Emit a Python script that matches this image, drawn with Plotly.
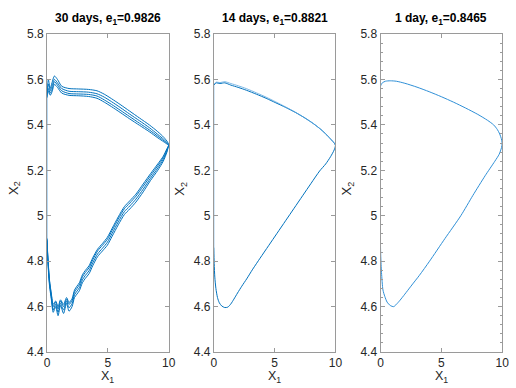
import plotly.graph_objects as go

# ---------------- data ----------------
titles = ["30 days, e<sub>1</sub>=0.9826", "14 days, e<sub>1</sub>=0.8821", "1 day, e<sub>1</sub>=0.8465"]
x_ticks = [0, 5, 10]
y_ticks = [4.4, 4.6, 4.8, 5.0, 5.2, 5.4, 5.6, 5.8]
y_ticktext = ["4.4", "4.6", "4.8", "5", "5.2", "5.4", "5.6", "5.8"]

# 30 days: four nearly parallel loops (upper branch, then lower branch)
p1_upper_x = [0, 0.1, 0.25, 0.4, 0.6, 0.85, 1.2, 1.8, 2.6, 3.4, 4.1, 4.7, 5.3, 6.0, 6.8, 7.6, 8.4, 9.1, 9.6, 9.9, 10.0]
p1_upper_y_a = [5.55, 5.60, 5.56, 5.585, 5.615, 5.60, 5.57, 5.56, 5.558, 5.556, 5.55, 5.535, 5.515, 5.49, 5.46, 5.43, 5.40, 5.37, 5.345, 5.325, 5.315]
p1_upper_y_b = [5.54, 5.58, 5.55, 5.57, 5.60, 5.585, 5.56, 5.548, 5.546, 5.544, 5.537, 5.522, 5.502, 5.477, 5.447, 5.418, 5.388, 5.358, 5.336, 5.32, 5.313]
p1_upper_y_c = [5.53, 5.56, 5.54, 5.555, 5.59, 5.575, 5.55, 5.538, 5.536, 5.534, 5.527, 5.51, 5.49, 5.465, 5.436, 5.407, 5.378, 5.35, 5.33, 5.317, 5.311]
p1_upper_y_d = [5.52, 5.55, 5.53, 5.545, 5.578, 5.565, 5.54, 5.53, 5.528, 5.525, 5.517, 5.50, 5.48, 5.455, 5.426, 5.398, 5.37, 5.343, 5.325, 5.314, 5.31]
p1_lower_x = [9.85, 9.55, 9.1, 8.5, 7.9, 7.3, 6.8, 6.35, 5.85, 5.35, 4.95, 4.55, 4.15, 3.75, 3.45, 3.15, 2.9, 2.65, 2.45, 2.25, 2.05, 1.8, 1.6, 1.35, 1.1, 0.9, 0.7, 0.5, 0.35, 0.2, 0.1, 0.03, 0]
p1_lower_y_a = [5.28, 5.24, 5.20, 5.155, 5.105, 5.06, 5.03, 5.005, 4.96, 4.91, 4.87, 4.845, 4.82, 4.78, 4.745, 4.725, 4.705, 4.67, 4.655, 4.64, 4.60, 4.58, 4.615, 4.57, 4.605, 4.56, 4.60, 4.575, 4.63, 4.69, 4.76, 4.83, 4.88]
p1_lower_y_b = [5.285, 5.248, 5.21, 5.165, 5.117, 5.073, 5.043, 5.018, 4.973, 4.923, 4.883, 4.857, 4.832, 4.793, 4.758, 4.738, 4.718, 4.683, 4.668, 4.652, 4.613, 4.595, 4.625, 4.585, 4.615, 4.575, 4.61, 4.585, 4.64, 4.70, 4.77, 4.84, 4.89]
p1_lower_y_c = [5.29, 5.256, 5.22, 5.176, 5.13, 5.086, 5.056, 5.031, 4.986, 4.936, 4.896, 4.87, 4.845, 4.806, 4.771, 4.751, 4.731, 4.696, 4.68, 4.664, 4.626, 4.61, 4.632, 4.60, 4.625, 4.59, 4.62, 4.60, 4.65, 4.71, 4.78, 4.845, 4.895]
p1_lower_y_d = [5.295, 5.262, 5.228, 5.185, 5.14, 5.095, 5.066, 5.04, 4.995, 4.945, 4.905, 4.878, 4.853, 4.815, 4.78, 4.76, 4.74, 4.705, 4.69, 4.673, 4.635, 4.618, 4.64, 4.61, 4.63, 4.60, 4.625, 4.61, 4.655, 4.715, 4.785, 4.85, 4.90]
p1_left_y = [4.88, 5.56]

# 14 days
p2_upper_x = [0, 0.2, 0.5, 0.9, 1.4, 2.0, 2.7, 3.5, 4.3, 5.1, 5.9, 6.7, 7.5, 8.2, 8.8, 9.3, 9.65, 9.9, 10.0]
p2_upper_y = [5.575, 5.585, 5.582, 5.585, 5.575, 5.565, 5.552, 5.535, 5.517, 5.497, 5.477, 5.455, 5.43, 5.405, 5.38, 5.355, 5.335, 5.32, 5.31]
p2_upper_y2 = [5.578, 5.588, 5.586, 5.59, 5.582, 5.572, 5.559, 5.541, 5.522, 5.501, 5.479, 5.456, 5.43, 5.405, 5.38, 5.355, 5.335, 5.32, 5.31]
p2_lower_x = [9.9, 9.6, 9.2, 8.7, 8.0, 7.3, 6.6, 5.9, 5.2, 4.5, 3.8, 3.2, 2.7, 2.3, 1.95, 1.65, 1.4, 1.15, 0.9, 0.65, 0.45, 0.3, 0.17, 0.08, 0.03, 0]
p2_lower_y = [5.29, 5.26, 5.228, 5.197, 5.143, 5.088, 5.033, 4.978, 4.923, 4.868, 4.813, 4.765, 4.722, 4.69, 4.66, 4.633, 4.612, 4.598, 4.596, 4.603, 4.617, 4.64, 4.68, 4.73, 4.79, 4.86]
p2_left_y = [4.86, 5.575]

# 1 day
p3_upper_x = [0, 0.15, 0.4, 0.8, 1.3, 2.0, 3.0, 4.0, 5.0, 6.0, 7.0, 8.0, 8.8, 9.3, 9.6, 9.8, 9.93, 10.0]
p3_upper_y = [5.57, 5.585, 5.592, 5.594, 5.592, 5.583, 5.566, 5.546, 5.524, 5.50, 5.474, 5.446, 5.42, 5.40, 5.38, 5.36, 5.34, 5.32]
p3_lower_x = [9.95, 9.75, 9.4, 8.6, 7.6, 6.6, 5.3, 4.03, 3.2, 2.5, 2.0, 1.6, 1.3, 1.08, 0.8, 0.54, 0.35, 0.2, 0.08, 0.02, 0, 0]
p3_lower_y = [5.30, 5.27, 5.24, 5.176, 5.09, 5.0, 4.9, 4.8, 4.738, 4.69, 4.655, 4.628, 4.61, 4.60, 4.605, 4.62, 4.645, 4.673, 4.75, 4.82, 4.86, 5.57]

# ---------------- figure ----------------
BLUE = "#0072BD"
LIGHT = "#7db9e8"
FONT = "Liberation Sans, Arial, Helvetica, sans-serif"

fig = go.Figure()

def add(x, y, ax, color=BLUE, width=1.0):
    fig.add_trace(go.Scatter(x=x, y=y, mode="lines", xaxis="x" + ax, yaxis="y" + ax,
                             line=dict(color=color, width=width, shape="spline", smoothing=0.7),
                             hoverinfo="skip", showlegend=False))

# plot 1
add([0, 0], p1_left_y, "", LIGHT)
for uy, ly in [(p1_upper_y_a, p1_lower_y_a), (p1_upper_y_b, p1_lower_y_b),
               (p1_upper_y_c, p1_lower_y_c), (p1_upper_y_d, p1_lower_y_d)]:
    add(p1_upper_x + p1_lower_x, uy + ly, "")
# plot 2
add([0, 0], p2_left_y, "2", LIGHT)
add(p2_upper_x + p2_lower_x, p2_upper_y + p2_lower_y, "2")
add(p2_upper_x, p2_upper_y2, "2", "#5aa6e0", 0.8)
# plot 3
add(p3_upper_x + p3_lower_x, p3_upper_y + p3_lower_y, "3", "#2f8fd6", 1.0)

xdoms = [[45 / 516, 169 / 516], [215 / 516, 339 / 516], [385 / 516, 509 / 516]]
ydom = [30 / 388, 360 / 388]
AXC = "#9a9a9a"

layout = dict(autosize=True, margin=dict(l=0, r=0, t=0, b=0, pad=0),
              paper_bgcolor="white", plot_bgcolor="white",
              font=dict(family=FONT, size=12, color="#262626"), showlegend=False)
annotations = []
for i in range(3):
    sfx = "" if i == 0 else str(i + 1)
    layout["xaxis" + sfx] = dict(domain=xdoms[i], anchor="y" + sfx, range=[0, 10],
                                 tickvals=x_ticks, ticks="inside", ticklen=4, tickcolor=AXC,
                                 showline=True, linecolor=AXC, linewidth=1, mirror="ticks",
                                 showgrid=False, zeroline=False,
                                 tickfont=dict(size=12, color="#262626"))
    ydict = dict(domain=ydom, anchor="x" + sfx, range=[4.4, 5.8],
                 tickvals=y_ticks, ticktext=y_ticktext, ticks="inside", ticklen=4, tickcolor=AXC,
                 showline=True, linecolor=AXC, linewidth=1, mirror="ticks",
                 showgrid=False, zeroline=False,
                 tickfont=dict(size=12, color="#262626"))
    if i == 2:
        ydict["minor"] = dict(ticks="inside", ticklen=2, dtick=0.04, tick0=4.4, tickcolor=AXC, showgrid=False)
    layout["yaxis" + sfx] = ydict
    cx = (xdoms[i][0] + xdoms[i][1]) / 2
    annotations.append(dict(text="<b>" + titles[i] + "</b>", x=cx, y=1 - 12 / 388, xref="paper", yref="paper",
                            showarrow=False, xanchor="center", yanchor="middle",
                            font=dict(size=12, color="black", family=FONT)))
    annotations.append(dict(text="X<sub>1</sub>", x=cx, y=1 - 384 / 388, xref="paper", yref="paper",
                            showarrow=False, xanchor="center", yanchor="middle", borderpad=0,
                            font=dict(size=12.5, color="#262626", family=FONT)))
    annotations.append(dict(text="X<sub>2</sub>", x=(xdoms[i][0] * 516 - 34) / 516, y=1 - 188 / 388,
                            xref="paper", yref="paper", textangle=-90,
                            showarrow=False, xanchor="center", yanchor="middle",
                            font=dict(size=13, color="#262626", family=FONT)))
layout["annotations"] = annotations
fig.update_layout(**layout)
fig.write_html("out.html", default_width="100vw", default_height="100vh",
               config={"displayModeBar": False, "responsive": True},
               post_script="document.body.style.margin='0';document.body.style.overflow='hidden';")
